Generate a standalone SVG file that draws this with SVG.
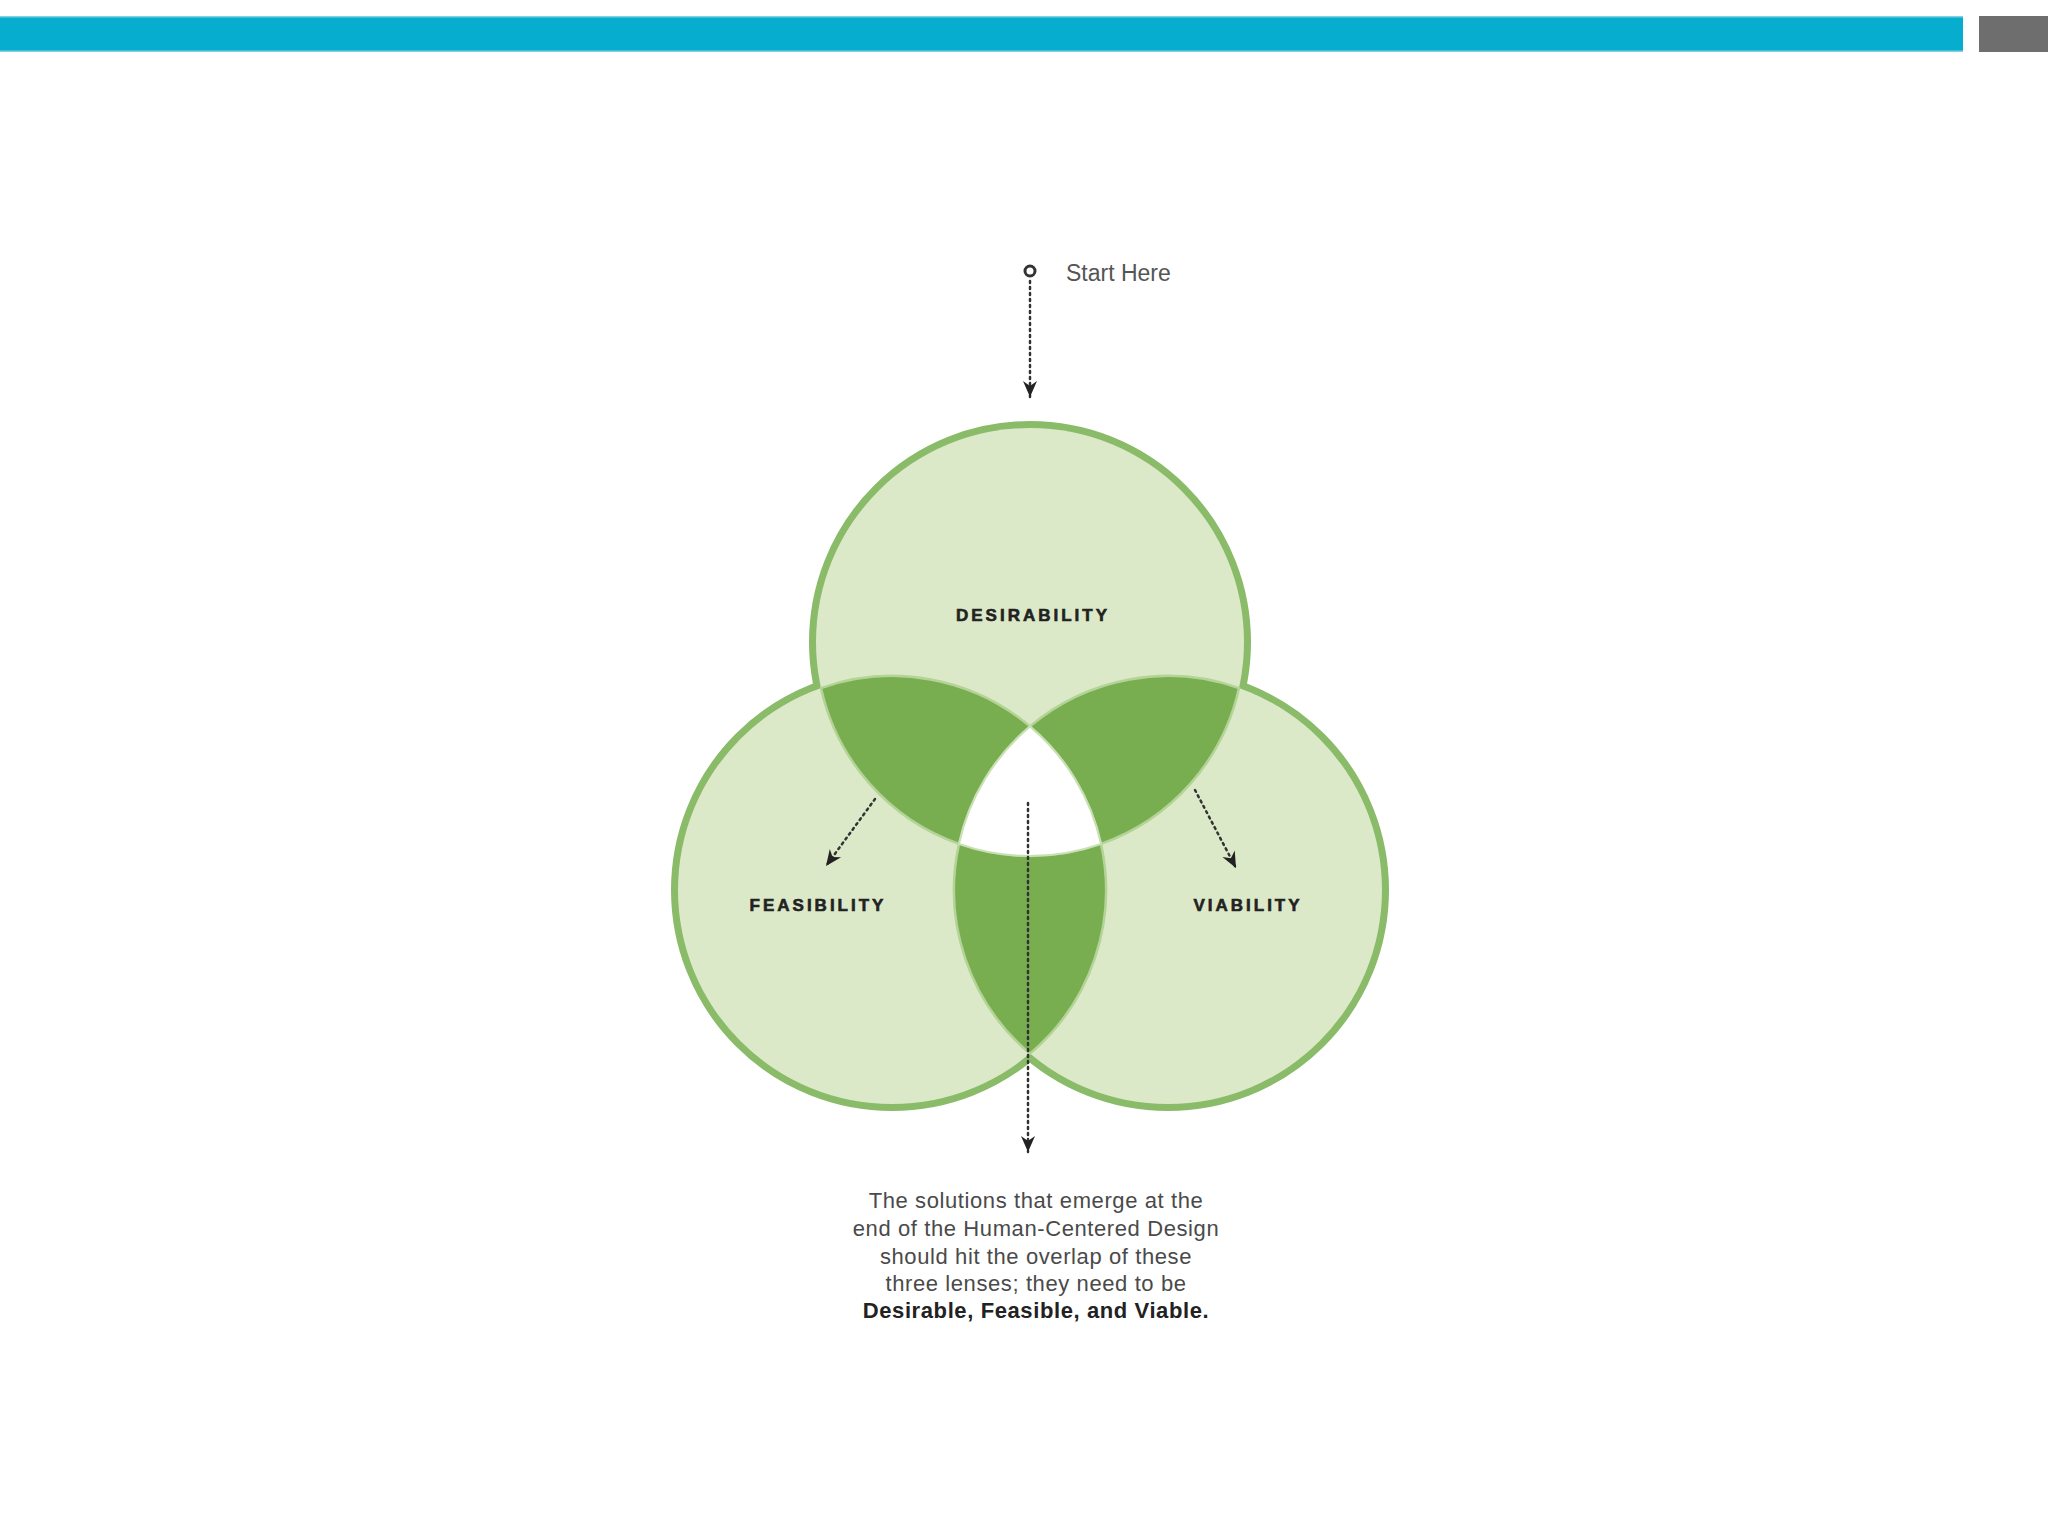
<svg xmlns="http://www.w3.org/2000/svg" width="2048" height="1536" viewBox="0 0 2048 1536">
  <style>
    .ring { fill: #dce9c8; stroke: #8abb68; stroke-width: 14; }
    .fill { fill: #dce9c8; stroke: none; }
    .lens { fill: #78ae4f; stroke: #b3d397; stroke-width: 2.5; }
    .core { fill: #ffffff; stroke: #c9e0b4; stroke-width: 2; }
    .label { font-family: "Liberation Sans", Arial, sans-serif; font-weight: bold; font-size: 17px; letter-spacing: 3px; fill: #222; stroke: #222; stroke-width: 0.6; text-anchor: middle; }
    .dots { fill: none; stroke: #333; stroke-width: 2.5; stroke-dasharray: 2 4; stroke-linecap: round; }
    .cap { font-family: "Liberation Sans", Arial, sans-serif; font-size: 22px; letter-spacing: 0.6px; fill: #4a4a4a; text-anchor: middle; }
    .capb { font-weight: bold; fill: #222; }
  </style>
  <defs>
    <marker id="arrow" viewBox="-1 -8 18 16" refX="16" refY="0" markerWidth="18" markerHeight="16" markerUnits="userSpaceOnUse" orient="auto">
      <path d="M0,-7 L16,0 L0,7 L5,0 Z" fill="#222"/>
    </marker>
  </defs>
  <rect width="2048" height="1536" fill="#ffffff"/>

  <g id="header">
    <rect x="0" y="16" width="1963" height="36" fill="#06adcf"/>
    <rect x="0" y="16" width="1963" height="1.5" fill="#7fd0e0"/>
    <rect x="0" y="50.5" width="1963" height="1.5" fill="#7fd0e0"/>
    <rect x="1979" y="16" width="69" height="36" fill="#6e6e6e"/>
  </g>

  <g id="circles">
    <circle class="ring" cx="1030" cy="642" r="214"/>
    <circle class="ring" cx="892" cy="890" r="214"/>
    <circle class="ring" cx="1168" cy="890" r="214"/>
    <circle class="fill" cx="1030" cy="642" r="214"/>
    <circle class="fill" cx="892" cy="890" r="214"/>
    <circle class="fill" cx="1168" cy="890" r="214"/>
  </g>

  <g id="overlaps">
    <path class="lens" d="M 821,688.1 A 214 214 0 0 1 1030,726.4 A 214 214 0 0 0 959,843.9 A 214 214 0 0 1 821,688.1 Z"/>
    <path class="lens" d="M 1239,688.1 A 214 214 0 0 0 1030,726.4 A 214 214 0 0 1 1101,843.9 A 214 214 0 0 0 1239,688.1 Z"/>
    <path class="lens" d="M 959,843.9 A 214 214 0 0 0 1030,1053.6 A 214 214 0 0 0 1101,843.9 A 214 214 0 0 1 959,843.9 Z"/>
    <path class="core" d="M 1030,726.4 A 214 214 0 0 1 1101,843.9 A 214 214 0 0 1 959,843.9 A 214 214 0 0 1 1030,726.4 Z"/>
  </g>

  <g id="desirability">
    <text class="label" x="1033" y="621">DESIRABILITY</text>
  </g>
  <g id="feasibility">
    <text class="label" x="818" y="911">FEASIBILITY</text>
  </g>
  <g id="viability">
    <text class="label" x="1248" y="911">VIABILITY</text>
  </g>

  <g id="start">
    <circle cx="1030" cy="271" r="5" fill="#fff" stroke="#333" stroke-width="3"/>
    <text x="1066" y="281" font-family="Liberation Sans, Arial, sans-serif" font-size="23" fill="#555">Start Here</text>
  </g>

  <g id="connectors">
    <line class="dots" x1="1030" y1="281" x2="1030" y2="397" marker-end="url(#arrow)"/>
    <line class="dots" x1="875" y1="799" x2="826" y2="866" marker-end="url(#arrow)"/>
    <line class="dots" x1="1195" y1="790" x2="1236" y2="868" marker-end="url(#arrow)"/>
    <line class="dots" x1="1028" y1="803" x2="1028" y2="1152" marker-end="url(#arrow)"/>
  </g>

  <g id="caption">
    <text class="cap" x="1036" y="1208">The solutions that emerge at the</text>
    <text class="cap" x="1036" y="1236">end of the Human-Centered Design</text>
    <text class="cap" x="1036" y="1264">should hit the overlap of these</text>
    <text class="cap" x="1036" y="1291">three lenses; they need to be</text>
    <text class="cap capb" x="1036" y="1318">Desirable, Feasible, and Viable.</text>
  </g>
</svg>
